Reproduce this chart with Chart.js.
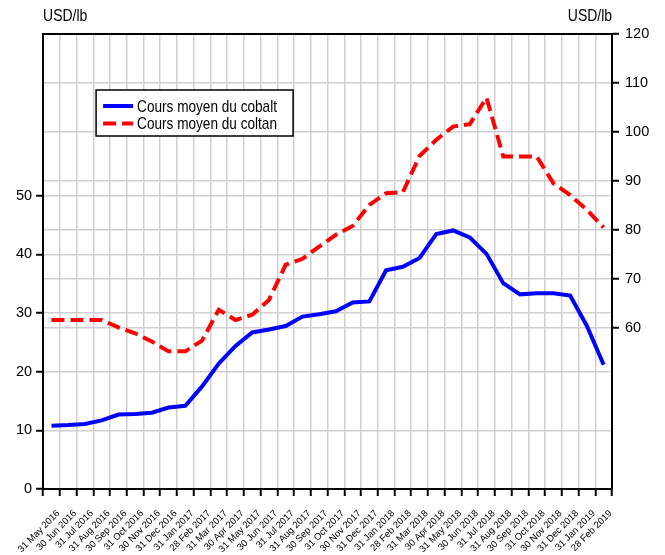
<!DOCTYPE html>
<html>
<head>
<meta charset="utf-8">
<script src="https://cdn.jsdelivr.net/npm/chart.js@4/dist/chart.umd.min.js"></script>
<style>
  html, body { margin: 0; padding: 0; background: #fff; }
  #wrap { width: 665px; height: 555px; }
</style>
</head>
<body>
<div id="wrap"><canvas id="chart" width="665" height="555"></canvas></div>
<script>
// monthly end-of-period dates
const months = [
    '31 May 2016', '30 Jun 2016', '31 Jul 2016', '31 Aug 2016', '30 Sep 2016', '31 Oct 2016',
    '30 Nov 2016', '31 Dec 2016', '31 Jan 2017', '28 Feb 2017', '31 Mar 2017', '30 Apr 2017',
    '31 May 2017', '30 Jun 2017', '31 Jul 2017', '31 Aug 2017', '30 Sep 2017', '31 Oct 2017',
    '30 Nov 2017', '31 Dec 2017', '31 Jan 2018', '28 Feb 2018', '31 Mar 2018', '30 Apr 2018',
    '31 May 2018', '30 Jun 2018', '31 Jul 2018', '31 Aug 2018', '30 Sep 2018', '31 Oct 2018',
    '30 Nov 2018', '31 Dec 2018', '31 Jan 2019', '28 Feb 2019'
];

// USD/lb, left axis
const cobalt = [
    10.8, 10.9, 11.1, 11.7, 12.7, 12.8, 13.0, 13.9, 14.2, 17.5, 21.4, 24.4,
    26.7, 27.2, 27.8, 29.4, 29.8, 30.3, 31.8, 32.0, 37.3, 37.9, 39.4, 43.5,
    44.1, 42.9, 40.1, 35.1, 33.2, 33.4, 33.4, 33.0, 27.8, 21.2
];

// USD/lb, right axis
const coltan = [
    61.6, 61.6, 61.6, 61.6, 60.1, 58.9, 57.2, 55.2, 55.2, 57.4, 63.7, 61.6,
    62.7, 65.7, 72.9, 74.1, 76.6, 79.0, 80.8, 85.1, 87.5, 87.7, 95.1, 98.4,
    101.1, 101.6, 107.0, 95.0, 95.0, 95.0, 89.5, 87.1, 84.1, 80.5
];

const leftTicks = [0, 10, 20, 30, 40, 50];
const rightTicks = [60, 70, 80, 90, 100, 110, 120];

const FONT = "'Liberation Sans', Arial, sans-serif";
const GRID = '#d0d0d0';
const NONE = 'rgba(0,0,0,0)';

// the source uses a narrow face; squeeze our own text horizontally
function narrowText(ctx, text, x, y, squeeze) {
    ctx.save();
    ctx.translate(x, y);
    ctx.scale(squeeze, 1);
    ctx.fillText(text, 0, 0);
    ctx.restore();
}

// frame, unit labels and the boxed legend inside the plot
const decorations = {
    id: 'decorations',
    afterDraw(chart) {
        const { ctx, chartArea: a } = chart;
        ctx.save();

        ctx.strokeStyle = '#000';
        ctx.lineWidth = 2;
        ctx.beginPath();
        ctx.moveTo(a.left - 1, a.top);
        ctx.lineTo(a.right + 1, a.top);
        ctx.stroke();

        ctx.fillStyle = '#000';
        ctx.font = '17px ' + FONT;
        ctx.textBaseline = 'middle';
        ctx.textAlign = 'left';
        narrowText(ctx, 'USD/lb', a.left, 16, 0.82);
        ctx.textAlign = 'right';
        narrowText(ctx, 'USD/lb', a.right, 16, 0.82);

        // legend
        const bx = a.left + 53, by = a.top + 56, bw = 197, bh = 46;
        ctx.fillStyle = '#fff';
        ctx.fillRect(bx, by, bw, bh);
        ctx.lineWidth = 1.5;
        ctx.strokeRect(bx, by, bw, bh);

        chart.data.datasets.forEach((ds, i) => {
            const y = by + 16 + i * 17.5;
            ctx.strokeStyle = ds.borderColor;
            ctx.lineWidth = 4;
            ctx.setLineDash(ds.borderDash || []);
            ctx.beginPath();
            ctx.moveTo(bx + 7, y);
            ctx.lineTo(bx + 37, y);
            ctx.stroke();
            ctx.setLineDash([]);
            ctx.fillStyle = '#000';
            ctx.font = '17px ' + FONT;
            ctx.textAlign = 'left';
            narrowText(ctx, ds.label, bx + 41, y + 1, 0.8);
        });
        ctx.restore();
    }
};

new Chart(document.getElementById('chart'), {
    type: 'line',
    data: {
        labels: months,
        datasets: [
            {
                label: 'Cours moyen du cobalt',
                data: cobalt,
                yAxisID: 'y',
                borderColor: '#0000ff',
                borderWidth: 4,
                pointRadius: 0,
                tension: 0
            },
            {
                label: 'Cours moyen du coltan',
                data: coltan,
                yAxisID: 'y2',
                borderColor: '#ff0000',
                borderWidth: 4,
                borderDash: [13, 6],
                borderCapStyle: 'butt',
                pointRadius: 0,
                tension: 0
            }
        ]
    },
    options: {
        responsive: false,
        animation: false,
        layout: { padding: { top: 34, left: 0, right: 0, bottom: 0 } },
        plugins: {
            legend: { display: false },
            tooltip: { enabled: false }
        },
        scales: {
            x: {
                offset: true,
                grid: {
                    offset: true,
                    color: GRID,
                    lineWidth: 1.5,
                    tickColor: '#000',
                    tickLength: 7,
                    tickWidth: 2
                },
                border: { color: '#000', width: 2 },
                ticks: {
                    autoSkip: false,
                    minRotation: 45,
                    maxRotation: 45,
                    labelOffset: 7,
                    padding: 12,
                    color: '#000',
                    font: { family: FONT, size: 9.5 }
                },
                afterFit(scale) { scale.height = 66; }
            },
            y: {
                position: 'left',
                min: 0,
                max: 77.6,
                grid: {
                    color: c => leftTicks.includes(c.tick?.value) ? GRID : NONE,
                    tickColor: c => leftTicks.includes(c.tick?.value) ? '#000' : NONE,
                    lineWidth: 1.5,
                    tickLength: 7,
                    tickWidth: 2
                },
                border: { color: '#000', width: 2 },
                ticks: {
                    stepSize: 10,
                    padding: 4,
                    color: '#000',
                    font: { family: FONT, size: 14.5 },
                    callback: v => leftTicks.includes(v) ? String(v) : ''
                },
                afterFit(scale) { scale.width = 42; }
            },
            y2: {
                position: 'right',
                min: 27.1,
                max: 120,
                grid: {
                    color: c => rightTicks.includes(c.tick?.value) ? GRID : NONE,
                    tickColor: c => rightTicks.includes(c.tick?.value) ? '#000' : NONE,
                    lineWidth: 1.5,
                    tickLength: 7,
                    tickWidth: 2
                },
                border: { color: '#000', width: 2 },
                ticks: {
                    stepSize: 10,
                    padding: 6,
                    color: '#000',
                    font: { family: FONT, size: 14.5 },
                    callback: v => rightTicks.includes(v) ? String(v) : ''
                },
                afterFit(scale) { scale.width = 53; }
            }
        }
    },
    plugins: [decorations]
});
</script>
</body>
</html>
